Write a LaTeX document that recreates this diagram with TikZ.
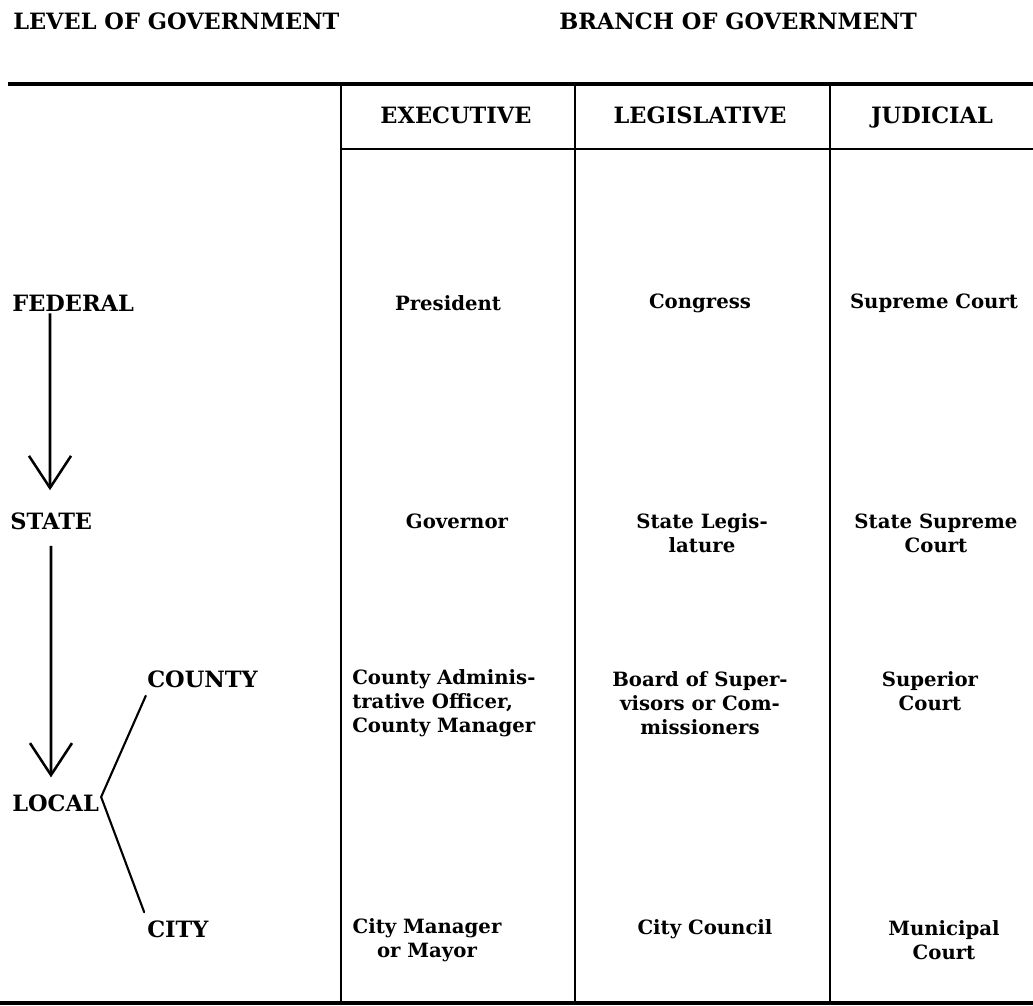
\documentclass[tikz,border=0pt]{standalone}
\usepackage{fontspec}
\setmainfont{DejaVu Serif}
\usetikzlibrary{arrows.meta}

\tikzset{
  capslabel/.style={font=\fontsize{16}{19}\selectfont\bfseries, inner sep=0pt},
  celltext/.style={font=\fontsize{14}{17}\selectfont\bfseries, align=center, inner sep=0pt},
  heavyrule/.style={line width=2.2pt},
  tableline/.style={line width=1.5pt},
  levelarrow/.style={line width=1.8pt, -{Straight Barb[length=0.8cm,width=1.05cm,line width=1.8pt]}},
  branchline/.style={line width=1.5pt, line cap=round}
}

\begin{document}
\begin{tikzpicture}
  \useasboundingbox (0,0) rectangle (25.825,25.15);

  % --- headings ---
  \node[capslabel,anchor=west] (levelhead) at (0.325,24.625) {LEVEL OF GOVERNMENT};
  \node[capslabel,anchor=west] (branchhead) at (13.975,24.625) {BRANCH OF GOVERNMENT};

  % --- table rules ---
  \draw[heavyrule] (0.2,23.05) -- (25.825,23.05);
  \draw[heavyrule] (0,0.075) -- (25.825,0.075);
  \draw[tableline] (8.525,21.425) -- (25.825,21.425);
  \foreach \x in {8.525,14.375,20.75}{
    \draw[tableline] (\x,23.05) -- (\x,0.075);
  }

  % --- column heads ---
  \foreach \x/\nm/\lbl in {11.4/exec/EXECUTIVE, 17.5/legis/LEGISLATIVE, 23.3/judic/JUDICIAL}{
    \node[capslabel,anchor=base] (\nm) at (\x,22.07) {\lbl};
  }

  % --- levels ---
  \node[capslabel,anchor=west] (federal) at (0.3,17.575) {FEDERAL};
  \node[capslabel,anchor=west] (state) at (0.25,12.125) {STATE};
  \node[capslabel,anchor=west] (county) at (3.675,8.175) {COUNTY};
  \node[capslabel,anchor=west] (local) at (0.3,5.075) {LOCAL};
  \node[capslabel,anchor=west] (city) at (3.675,1.925) {CITY};

  % level arrows
  \draw[levelarrow] ([xshift=0.95cm,yshift=-0.05cm]federal.south west)
    -- ([xshift=1.0cm,yshift=0.55cm]state.north west);
  \draw[levelarrow] ([xshift=1.025cm,yshift=-0.4cm]state.south west)
    -- ([xshift=0.975cm,yshift=0.42cm]local.north west);

  % local branches
  \draw[branchline] ([xshift=-0.03cm,yshift=-0.2cm]county.south west)
    -- ([xshift=0.05cm,yshift=0.15cm]local.east)
    -- ([xshift=-0.07cm,yshift=0.2cm]city.north west);

  % --- executive ---
  \node[celltext] (president) at (11.2,17.575) {President};
  \node[celltext] (governor) at (11.425,12.125) {Governor};
  \node[celltext,align=left,anchor=west] (countyexec) at (8.8,7.575)
    {County Adminis-\\trative Officer,\\County Manager};
  \node[celltext] (cityexec) at (10.675,1.65) {City Manager\\or Mayor};

  % --- legislative ---
  \node[celltext] (congress) at (17.5,17.575) {Congress};
  \node[celltext] (statelegis) at (17.55,11.825) {State Legis-\\lature};
  \node[celltext] (board) at (17.5,7.575) {Board of Super-\\visors or Com-\\missioners};
  \node[celltext] (council) at (17.625,1.925) {City Council};

  % --- judicial ---
  \node[celltext] (supreme) at (23.35,17.575) {Supreme Court};
  \node[celltext] (statesup) at (23.4,11.825) {State Supreme\\Court};
  \node[celltext] (superior) at (23.25,7.875) {Superior\\Court};
  \node[celltext] (municipal) at (23.6,1.65) {Municipal\\Court};

\end{tikzpicture}
\end{document}
